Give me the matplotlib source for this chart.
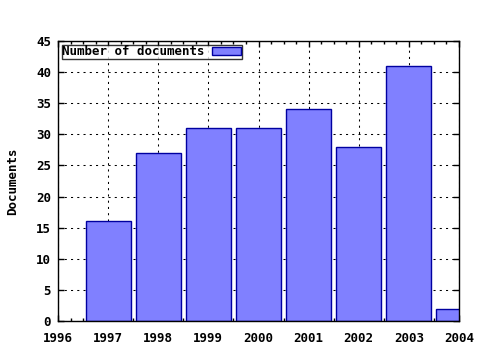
import matplotlib
matplotlib.use("Agg")
import matplotlib.pyplot as plt
from matplotlib.ticker import MultipleLocator

# Données
annees = [1997, 1998, 1999, 2000, 2001, 2002, 2003, 2004]
documents = [16, 27, 31, 31, 34, 28, 41, 2]
xticks = [1996, 1997, 1998, 1999, 2000, 2001, 2002, 2003, 2004]
yticks = [0, 5, 10, 15, 20, 25, 30, 35, 40, 45]

plt.rcParams['font.family'] = 'DejaVu Sans Mono'
plt.rcParams['font.weight'] = 'bold'
plt.rcParams['font.size'] = 9

fig = plt.figure(figsize=(4.8, 3.5), dpi=100)
ax = fig.add_axes([58 / 480, 29 / 350, 401 / 480, 280 / 350])

ax.bar(annees, documents, width=0.9, color='#8080ff', edgecolor='#0000a0',
       linewidth=1.0, label='Number of documents', zorder=2)

ax.set_xlim(1996, 2004)
ax.set_ylim(0, 45)
ax.set_xticks(xticks)
ax.set_xticklabels([str(a) for a in xticks], fontweight='bold')
ax.set_yticks(yticks)
ax.set_yticklabels([str(v) for v in yticks], fontweight='bold')
ax.xaxis.set_minor_locator(MultipleLocator(0.25))

ax.tick_params(axis='both', which='major', direction='in', length=4, width=1,
               top=True, right=True)
ax.tick_params(axis='x', which='major', pad=8)
ax.tick_params(axis='y', which='major', pad=5)
ax.tick_params(axis='x', which='minor', direction='in', length=2, width=1,
               top=True)

ax.grid(True, which='major', color='black', linestyle=(0, (2, 4)),
        linewidth=0.75, zorder=0)
ax.set_axisbelow(True)
for s in ax.spines.values():
    s.set_linewidth(1)
    s.set_color('black')

ax.set_ylabel('Documents', fontweight='bold', labelpad=12)

leg = ax.legend(loc='upper left', frameon=True, fancybox=False,
                handlelength=2.3, handleheight=0.5, borderpad=0.05,
                borderaxespad=0.3, handletextpad=0.6, markerfirst=False,
                prop={'weight': 'bold', 'size': 9})
leg.get_frame().set_edgecolor('black')
leg.get_frame().set_linewidth(1)

fig.savefig('out.png', dpi=100)
